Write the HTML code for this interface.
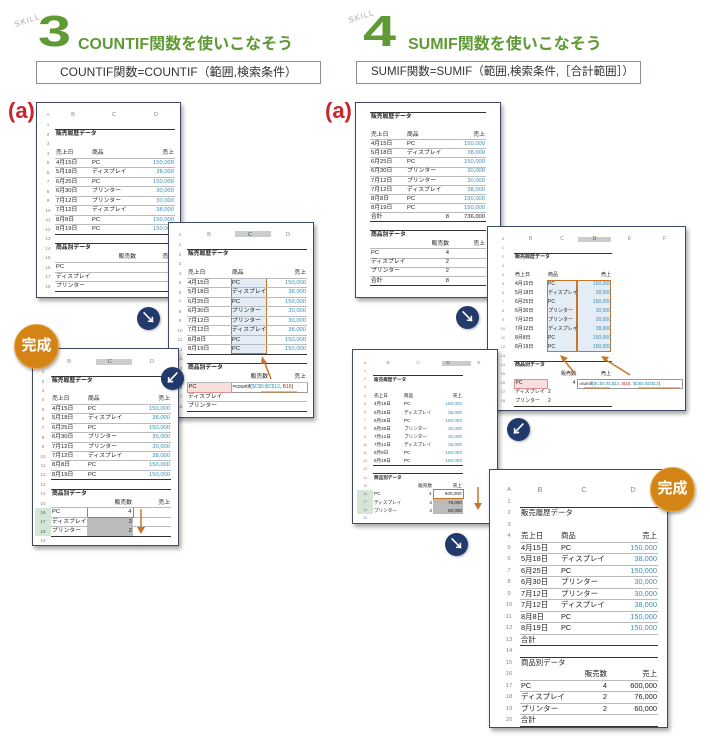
<!DOCTYPE html>
<html><head><meta charset="utf-8">
<style>
*{margin:0;padding:0;box-sizing:border-box}
body{width:710px;height:737px;background:#fff;position:relative;overflow:hidden;font-family:"Liberation Sans","Noto Sans CJK JP",sans-serif;color:#222}
.abs{position:absolute}
.skill{font-size:8px;color:#aaa;letter-spacing:1px;transform:rotate(-18deg)}
.big{font-size:44px;font-weight:bold;color:#5f9a35;line-height:1;transform:scaleX(1.35);transform-origin:left top}
.ttl{font-size:16px;font-weight:bold;color:#5f9a35}
.box{border:1px solid #8a8f97;font-size:12px;color:#333;text-align:center;line-height:20px;background:#fff;white-space:nowrap;overflow:hidden}
.a{color:#c9252b;font-size:22px;font-weight:bold}
.p{position:absolute;background:#fff;border:1.5px solid #3d4a66;box-shadow:2px 3px 4px rgba(0,0,0,.35)}
.p table{position:absolute;border-collapse:collapse;table-layout:fixed}
.p td{padding:0 1px;white-space:nowrap;font-size:inherit;vertical-align:middle;line-height:1.1}
.p td.n{color:#888;text-align:center;font-size:0.8em}
.p tr.h td{color:#888;text-align:center}
.p tr.u td:not(.n){border-bottom:0.5px solid #bbb}
.p tr.t td:not(.n){border-top:1.2px solid #333}
.p tr.b td:not(.n){border-bottom:1.2px solid #333}
.v{color:#3b8fb5;text-align:right}
.r{text-align:right}
.c{border-radius:50%;background:#21396b;color:#fff;text-align:center;font-weight:bold;box-shadow:1px 1px 2px rgba(0,0,0,.3)}
.done{border-radius:50%;background:#d38414;color:#fff;text-align:center;font-weight:bold;font-size:15px;box-shadow:1px 2px 3px rgba(0,0,0,.35);border:1.5px solid #e9a84a}
.A1 tr:not(.h){height:9.5px}
.A3 tr:not(.h){height:9.4px}
.B1 tr{height:9.1px}
.B2 tr:not(.h){height:9px}
.B3 tr:not(.h){height:8.2px}
.B4 tr:not(.h){height:11.5px}
</style></head><body>

<div class="abs skill" style="left:14px;top:16px">SKILL</div>
<div class="abs big" style="left:38px;top:10px">3</div>
<div class="abs ttl" style="left:78px;top:30px">COUNTIF関数を使いこなそう</div>
<div class="abs box" style="left:36px;top:61px;width:285px;height:23px">COUNTIF関数=COUNTIF（範囲,検索条件）</div>
<div class="abs a" style="left:8px;top:98px">(a)</div>

<div class="abs skill" style="left:348px;top:12px">SKILL</div>
<div class="abs big" style="left:363px;top:10px">4</div>
<div class="abs ttl" style="left:408px;top:30px">SUMIF関数を使いこなそう</div>
<div class="abs box" style="left:356px;top:61px;width:285px;height:23px;font-size:11.5px;text-align:left;padding-left:14px">SUMIF関数=SUMIF（範囲,検索条件,［合計範囲］）</div>
<div class="abs a" style="left:325px;top:98px">(a)</div>

<!-- A1 -->
<div class="p A1" style="left:36px;top:102px;width:145px;height:196px;font-size:5.8px">
<table style="left:4px;top:7px;width:134px"><colgroup><col style="width:14px"><col style="width:36px"><col style="width:46px"><col style="width:38px"></colgroup>
<tr class="h" style="height:10px"><td class="n">A</td><td>B</td><td>C</td><td>D</td></tr>
<tr><td class="n">1</td><td></td><td></td><td></td></tr>
<tr class="t"><td class="n">2</td><td colspan="2"><b>販売履歴データ</b></td><td></td></tr>
<tr><td class="n">3</td><td></td><td></td><td></td></tr>
<tr class="u"><td class="n">4</td><td>売上日</td><td>商品</td><td class="r">売上</td></tr>
<tr class="u"><td class="n">5</td><td>4月15日</td><td>PC</td><td class="v">150,000</td></tr>
<tr class="u"><td class="n">6</td><td>5月18日</td><td>ディスプレイ</td><td class="v">38,000</td></tr>
<tr class="u"><td class="n">7</td><td>6月25日</td><td>PC</td><td class="v">150,000</td></tr>
<tr class="u"><td class="n">8</td><td>6月30日</td><td>プリンター</td><td class="v">30,000</td></tr>
<tr class="u"><td class="n">9</td><td>7月12日</td><td>プリンター</td><td class="v">30,000</td></tr>
<tr class="u"><td class="n">10</td><td>7月12日</td><td>ディスプレイ</td><td class="v">38,000</td></tr>
<tr class="u"><td class="n">11</td><td>8月8日</td><td>PC</td><td class="v">150,000</td></tr>
<tr class="b"><td class="n">12</td><td>8月19日</td><td>PC</td><td class="v">150,000</td></tr>
<tr><td class="n">13</td><td></td><td></td><td></td></tr>
<tr class="t"><td class="n">14</td><td colspan="2"><b>商品別データ</b></td><td></td></tr>
<tr class="u"><td class="n">15</td><td></td><td class="r">販売数</td><td class="r">売上</td></tr>
<tr class="u"><td class="n">16</td><td>PC</td><td></td><td></td></tr>
<tr class="u"><td class="n">17</td><td>ディスプレイ</td><td></td><td></td></tr>
<tr class="b"><td class="n">18</td><td>プリンター</td><td></td><td></td></tr>
</table></div>

<!-- A2 -->
<div class="p A1" style="left:168px;top:222px;width:146px;height:196px;font-size:5.8px">
<div class="abs" style="left:66px;top:8px;width:36px;height:6px;background:#ccc"></div>
<div class="abs" style="left:62px;top:55px;width:36px;height:76px;background:#e4ecf6;border:1.5px solid #c8762a"></div>
<table style="left:4px;top:7px;width:134px"><colgroup><col style="width:14px"><col style="width:44px"><col style="width:38px"><col style="width:38px"></colgroup>
<tr class="h" style="height:10px"><td class="n">A</td><td>B</td><td style="color:#2a7a3a">C</td><td>D</td></tr>
<tr><td class="n">1</td><td></td><td></td><td></td></tr>
<tr class="t"><td class="n">2</td><td colspan="2"><b>販売履歴データ</b></td><td></td></tr>
<tr><td class="n">3</td><td></td><td></td><td></td></tr>
<tr class="u"><td class="n">4</td><td>売上日</td><td>商品</td><td class="r">売上</td></tr>
<tr class="u"><td class="n">5</td><td>4月15日</td><td>PC</td><td class="v">150,000</td></tr>
<tr class="u"><td class="n">6</td><td>5月18日</td><td>ディスプレイ</td><td class="v">38,000</td></tr>
<tr class="u"><td class="n">7</td><td>6月25日</td><td>PC</td><td class="v">150,000</td></tr>
<tr class="u"><td class="n">8</td><td>6月30日</td><td>プリンター</td><td class="v">30,000</td></tr>
<tr class="u"><td class="n">9</td><td>7月12日</td><td>プリンター</td><td class="v">30,000</td></tr>
<tr class="u"><td class="n">10</td><td>7月12日</td><td>ディスプレイ</td><td class="v">38,000</td></tr>
<tr class="u"><td class="n">11</td><td>8月8日</td><td>PC</td><td class="v">150,000</td></tr>
<tr class="b"><td class="n">12</td><td>8月19日</td><td>PC</td><td class="v">150,000</td></tr>
<tr><td class="n">13</td><td></td><td></td><td></td></tr>
<tr class="t"><td class="n">14</td><td colspan="2"><b>商品別データ</b></td><td></td></tr>
<tr class="u"><td class="n">15</td><td></td><td class="r">販売数</td><td class="r">売上</td></tr>
<tr class="u"><td class="n">16</td><td style="background:#f9dede;border:0.5px solid #e09090">PC</td><td colspan="2" style="font-size:5px;border:0.5px solid #999">=countif(<span style="color:#3b8fb5">$C$5:$C$12</span>, <span style="color:#c9252b">B16</span>)</td></tr>
<tr class="u"><td class="n">17</td><td>ディスプレイ</td><td></td><td></td></tr>
<tr class="b"><td class="n">18</td><td>プリンター</td><td></td><td></td></tr>
</table>
<svg class="abs" style="left:0;top:0" width="146" height="196"><line x1="102" y1="156" x2="95" y2="138" stroke="#c8762a" stroke-width="1.5"/><polygon points="93,133 98,140 92,141" fill="#c8762a"/><line x1="92" y1="169" x2="128" y2="169" stroke="#c8762a" stroke-width="1"/></svg>
</div>

<!-- A3 -->
<div class="p A3" style="left:32px;top:348px;width:147px;height:198px;font-size:5.8px">
<div class="abs" style="left:63px;top:10px;width:36px;height:6px;background:#ccc"></div>
<table style="left:2px;top:9px;width:136px"><colgroup><col style="width:16px"><col style="width:36px"><col style="width:46px"><col style="width:38px"></colgroup>
<tr class="h" style="height:9px"><td class="n">A</td><td>B</td><td style="color:#2a7a3a">C</td><td>D</td></tr>
<tr><td class="n">1</td><td></td><td></td><td></td></tr>
<tr class="t"><td class="n">2</td><td colspan="2"><b>販売履歴データ</b></td><td></td></tr>
<tr><td class="n">3</td><td></td><td></td><td></td></tr>
<tr class="u"><td class="n">4</td><td>売上日</td><td>商品</td><td class="r">売上</td></tr>
<tr class="u"><td class="n">5</td><td>4月15日</td><td>PC</td><td class="v">150,000</td></tr>
<tr class="u"><td class="n">6</td><td>5月18日</td><td>ディスプレイ</td><td class="v">38,000</td></tr>
<tr class="u"><td class="n">7</td><td>6月25日</td><td>PC</td><td class="v">150,000</td></tr>
<tr class="u"><td class="n">8</td><td>6月30日</td><td>プリンター</td><td class="v">30,000</td></tr>
<tr class="u"><td class="n">9</td><td>7月12日</td><td>プリンター</td><td class="v">30,000</td></tr>
<tr class="u"><td class="n">10</td><td>7月12日</td><td>ディスプレイ</td><td class="v">38,000</td></tr>
<tr class="u"><td class="n">11</td><td>8月8日</td><td>PC</td><td class="v">150,000</td></tr>
<tr class="b"><td class="n">12</td><td>8月19日</td><td>PC</td><td class="v">150,000</td></tr>
<tr><td class="n">13</td><td></td><td></td><td></td></tr>
<tr class="t"><td class="n">14</td><td colspan="2"><b>商品別データ</b></td><td></td></tr>
<tr class="u"><td class="n">15</td><td></td><td class="r">販売数</td><td class="r">売上</td></tr>
<tr class="u"><td class="n" style="background:#d6e6d6;color:#2a7a3a">16</td><td>PC</td><td class="r" style="border:1.5px solid #c8762a">4</td><td></td></tr>
<tr class="u"><td class="n" style="background:#d6e6d6;color:#2a7a3a">17</td><td>ディスプレイ</td><td class="r" style="background:#bbb">2</td><td></td></tr>
<tr class="b"><td class="n" style="background:#d6e6d6;color:#2a7a3a">18</td><td>プリンター</td><td class="r" style="background:#bbb">2</td><td></td></tr>
<tr><td class="n">19</td><td></td><td></td><td></td></tr>
</table>
<svg class="abs" style="left:0;top:0" width="147" height="198"><line x1="108" y1="160" x2="108" y2="180" stroke="#c8762a" stroke-width="1.5"/><polygon points="104,178 112,178 108,185" fill="#c8762a"/></svg>
</div>

<!-- B1 -->
<div class="p B1" style="left:355px;top:102px;width:146px;height:196px;font-size:5.8px">
<table style="left:14px;top:9px;width:116px"><colgroup><col style="width:36px"><col style="width:44px"><col style="width:36px"></colgroup>
<tr class="t"><td colspan="2"><b>販売履歴データ</b></td><td></td></tr>
<tr><td></td><td></td><td></td></tr>
<tr class="u"><td>売上日</td><td>商品</td><td class="r">売上</td></tr>
<tr class="u"><td>4月15日</td><td>PC</td><td class="v">150,000</td></tr>
<tr class="u"><td>5月18日</td><td>ディスプレイ</td><td class="v">38,000</td></tr>
<tr class="u"><td>6月25日</td><td>PC</td><td class="v">150,000</td></tr>
<tr class="u"><td>6月30日</td><td>プリンター</td><td class="v">30,000</td></tr>
<tr class="u"><td>7月12日</td><td>プリンター</td><td class="v">30,000</td></tr>
<tr class="u"><td>7月12日</td><td>ディスプレイ</td><td class="v">38,000</td></tr>
<tr class="u"><td>8月8日</td><td>PC</td><td class="v">150,000</td></tr>
<tr class="u"><td>8月19日</td><td>PC</td><td class="v">150,000</td></tr>
<tr class="b"><td>合計</td><td class="r">8</td><td class="r">736,000</td></tr>
<tr><td></td><td></td><td></td></tr>
<tr class="t"><td colspan="2"><b>商品別データ</b></td><td></td></tr>
<tr class="u"><td></td><td class="r">販売数</td><td class="r">売上</td></tr>
<tr class="u"><td>PC</td><td class="r">4</td><td></td></tr>
<tr class="u"><td>ディスプレイ</td><td class="r">2</td><td></td></tr>
<tr class="u"><td>プリンター</td><td class="r">2</td><td></td></tr>
<tr class="b"><td>合計</td><td class="r">8</td><td></td></tr>
</table></div>

<!-- B2 -->
<div class="p B2" style="left:487px;top:226px;width:199px;height:185px;font-size:5px">
<div class="abs" style="left:90px;top:10px;width:33px;height:5px;background:#ccc"></div>
<div class="abs" style="left:59px;top:53px;width:30px;height:72px;background:#e4ecf6;border:1.5px solid #c8762a"></div>
<div class="abs" style="left:89px;top:53px;width:34px;height:72px;background:#e4ecf6;border:1.5px solid #c8762a"></div>
<table style="left:4px;top:8px;width:190px"><colgroup><col style="width:22px"><col style="width:33px"><col style="width:30px"><col style="width:35px"><col style="width:35px"><col style="width:35px"></colgroup>
<tr class="h" style="height:9px"><td class="n">A</td><td>B</td><td>C</td><td style="color:#2a7a3a">D</td><td>E</td><td>F</td></tr>
<tr><td class="n">1</td><td colspan="5"></td></tr>
<tr><td class="n">2</td><td colspan="2" style="border-top:1.2px solid #333"><b>販売履歴データ</b></td><td style="border-top:1.2px solid #333"></td><td colspan="2"></td></tr>
<tr><td class="n">3</td><td colspan="5"></td></tr>
<tr><td class="n">4</td><td>売上日</td><td>商品</td><td class="r">売上</td><td colspan="2"></td></tr>
<tr><td class="n">5</td><td>4月15日</td><td>PC</td><td class="v">150,000</td><td colspan="2"></td></tr>
<tr><td class="n">6</td><td>5月18日</td><td>ディスプレイ</td><td class="v">38,000</td><td colspan="2"></td></tr>
<tr><td class="n">7</td><td>6月25日</td><td>PC</td><td class="v">150,000</td><td colspan="2"></td></tr>
<tr><td class="n">8</td><td>6月30日</td><td>プリンター</td><td class="v">30,000</td><td colspan="2"></td></tr>
<tr><td class="n">9</td><td>7月12日</td><td>プリンター</td><td class="v">30,000</td><td colspan="2"></td></tr>
<tr><td class="n">10</td><td>7月12日</td><td>ディスプレイ</td><td class="v">38,000</td><td colspan="2"></td></tr>
<tr><td class="n">11</td><td>8月8日</td><td>PC</td><td class="v">150,000</td><td colspan="2"></td></tr>
<tr><td class="n">12</td><td>8月19日</td><td>PC</td><td class="v">150,000</td><td colspan="2"></td></tr>
<tr><td class="n">13</td><td colspan="5"></td></tr>
<tr><td class="n">14</td><td colspan="2" style="border-top:1.2px solid #333"><b>商品別データ</b></td><td style="border-top:1.2px solid #333"></td><td colspan="2"></td></tr>
<tr><td class="n">15</td><td></td><td class="r">販売数</td><td class="r">売上</td><td colspan="2"></td></tr>
<tr><td class="n">16</td><td style="background:#f9dede;border:0.5px solid #e09090">PC</td><td class="r">4</td><td colspan="3" style="font-size:4.6px;border:0.5px solid #999">=sumif(<span style="color:#3b8fb5">$C$5:$C$12</span>, <span style="color:#c9252b">B16</span>, <span style="color:#3b8fb5">$D$5:$D$12</span>)</td></tr>
<tr><td class="n">17</td><td>ディスプレイ</td><td>2</td><td></td><td colspan="2"></td></tr>
<tr><td class="n">18</td><td style="border-bottom:1px solid #333">プリンター</td><td style="border-bottom:1px solid #333">2</td><td style="border-bottom:1px solid #333"></td><td colspan="2"></td></tr>
</table>
<svg class="abs" style="left:0;top:0" width="199" height="185"><line x1="88" y1="148" x2="76" y2="133" stroke="#c8762a" stroke-width="1.5"/><polygon points="72,128 80,131 75,135" fill="#c8762a"/><line x1="142" y1="148" x2="118" y2="133" stroke="#c8762a" stroke-width="1.5"/><polygon points="113,129 121,130 117,135" fill="#c8762a"/><line x1="96" y1="161" x2="122" y2="161" stroke="#c8762a" stroke-width="1"/><line x1="150" y1="161" x2="192" y2="161" stroke="#c8762a" stroke-width="1"/></svg>
</div>

<!-- B3 -->
<div class="p B3" style="left:352px;top:349px;width:146px;height:175px;font-size:4.6px">
<div class="abs" style="left:89px;top:11px;width:29px;height:5px;background:#ccc"></div>
<table style="left:4px;top:9px;width:138px"><colgroup><col style="width:16px"><col style="width:30px"><col style="width:30px"><col style="width:30px"><col style="width:32px"></colgroup>
<tr class="h" style="height:8px"><td class="n">A</td><td>B</td><td>C</td><td style="color:#2a7a3a">D</td><td>E</td></tr>
<tr><td class="n">1</td><td></td><td></td><td></td><td></td></tr>
<tr><td class="n">2</td><td colspan="2" style="border-top:1.2px solid #333"><b>販売履歴データ</b></td><td style="border-top:1.2px solid #333"></td><td></td></tr>
<tr><td class="n">3</td><td></td><td></td><td></td><td></td></tr>
<tr><td class="n">4</td><td>売上日</td><td>商品</td><td class="r">売上</td><td></td></tr>
<tr><td class="n">5</td><td>4月15日</td><td>PC</td><td class="v">150,000</td><td></td></tr>
<tr><td class="n">6</td><td>5月18日</td><td>ディスプレイ</td><td class="v">38,000</td><td></td></tr>
<tr><td class="n">7</td><td>6月25日</td><td>PC</td><td class="v">150,000</td><td></td></tr>
<tr><td class="n">8</td><td>6月30日</td><td>プリンター</td><td class="v">30,000</td><td></td></tr>
<tr><td class="n">9</td><td>7月12日</td><td>プリンター</td><td class="v">30,000</td><td></td></tr>
<tr><td class="n">10</td><td>7月12日</td><td>ディスプレイ</td><td class="v">38,000</td><td></td></tr>
<tr><td class="n">11</td><td>8月8日</td><td>PC</td><td class="v">150,000</td><td></td></tr>
<tr><td class="n">12</td><td style="border-bottom:1px solid #333">8月19日</td><td style="border-bottom:1px solid #333">PC</td><td class="v" style="border-bottom:1px solid #333">150,000</td><td></td></tr>
<tr><td class="n">13</td><td></td><td></td><td></td><td></td></tr>
<tr><td class="n">14</td><td colspan="2" style="border-top:1.2px solid #333"><b>商品別データ</b></td><td style="border-top:1.2px solid #333"></td><td></td></tr>
<tr><td class="n">15</td><td></td><td class="r">販売数</td><td class="r">売上</td><td></td></tr>
<tr><td class="n" style="background:#d6e6d6">16</td><td>PC</td><td class="r">4</td><td class="r" style="border:1.5px solid #c8762a">600,000</td><td></td></tr>
<tr><td class="n" style="background:#d6e6d6">17</td><td>ディスプレイ</td><td class="r">2</td><td class="r" style="background:#bbb">76,000</td><td></td></tr>
<tr><td class="n" style="background:#d6e6d6">18</td><td>プリンター</td><td class="r">2</td><td class="r" style="background:#bbb">60,000</td><td></td></tr>
<tr><td class="n">19</td><td></td><td></td><td></td><td></td></tr>
</table>
<svg class="abs" style="left:0;top:0" width="146" height="175"><line x1="125" y1="137" x2="125" y2="155" stroke="#c8762a" stroke-width="1.5"/><polygon points="121,153 129,153 125,160" fill="#c8762a"/></svg>
</div>

<!-- B4 -->
<div class="p B4" style="left:489px;top:469px;width:179px;height:259px;font-size:7.4px">
<table style="left:8px;top:15px;width:160px"><colgroup><col style="width:22px"><col style="width:40px"><col style="width:48px"><col style="width:50px"></colgroup>
<tr class="h" style="height:11px"><td class="n">A</td><td>B</td><td>C</td><td>D</td></tr>
<tr><td class="n">1</td><td></td><td></td><td></td></tr>
<tr class="t"><td class="n">2</td><td colspan="2">販売履歴データ</td><td></td></tr>
<tr><td class="n">3</td><td></td><td></td><td></td></tr>
<tr class="u"><td class="n">4</td><td>売上日</td><td>商品</td><td class="r">売上</td></tr>
<tr class="u"><td class="n">5</td><td>4月15日</td><td>PC</td><td class="v">150,000</td></tr>
<tr class="u"><td class="n">6</td><td>5月18日</td><td>ディスプレイ</td><td class="v">38,000</td></tr>
<tr class="u"><td class="n">7</td><td>6月25日</td><td>PC</td><td class="v">150,000</td></tr>
<tr class="u"><td class="n">8</td><td>6月30日</td><td>プリンター</td><td class="v">30,000</td></tr>
<tr class="u"><td class="n">9</td><td>7月12日</td><td>プリンター</td><td class="v">30,000</td></tr>
<tr class="u"><td class="n">10</td><td>7月12日</td><td>ディスプレイ</td><td class="v">38,000</td></tr>
<tr class="u"><td class="n">11</td><td>8月8日</td><td>PC</td><td class="v">150,000</td></tr>
<tr class="u"><td class="n">12</td><td>8月19日</td><td>PC</td><td class="v">150,000</td></tr>
<tr class="b"><td class="n">13</td><td>合計</td><td></td><td></td></tr>
<tr><td class="n">14</td><td></td><td></td><td></td></tr>
<tr class="t"><td class="n">15</td><td colspan="2">商品別データ</td><td></td></tr>
<tr class="u"><td class="n">16</td><td></td><td class="r">販売数</td><td class="r">売上</td></tr>
<tr class="u"><td class="n">17</td><td>PC</td><td class="r">4</td><td class="r">600,000</td></tr>
<tr class="u"><td class="n">18</td><td>ディスプレイ</td><td class="r">2</td><td class="r">76,000</td></tr>
<tr class="u"><td class="n">19</td><td>プリンター</td><td class="r">2</td><td class="r">60,000</td></tr>
<tr class="b"><td class="n">20</td><td>合計</td><td></td><td></td></tr>
</table></div>

<div class="abs c" style="left:137px;top:307px;width:23px;height:23px;font-size:15px;line-height:23px">↘</div>
<div class="abs c" style="left:161px;top:367px;width:23px;height:23px;font-size:15px;line-height:23px">↙</div>
<div class="abs c" style="left:456px;top:306px;width:23px;height:23px;font-size:15px;line-height:23px">↘</div>
<div class="abs c" style="left:507px;top:418px;width:23px;height:23px;font-size:15px;line-height:23px">↙</div>
<div class="abs c" style="left:445px;top:533px;width:23px;height:23px;font-size:15px;line-height:23px">↘</div>

<div class="abs done" style="left:14px;top:324px;width:45px;height:45px;line-height:42px">完成</div>
<div class="abs done" style="left:650px;top:467px;width:45px;height:45px;line-height:42px">完成</div>

</body></html>
